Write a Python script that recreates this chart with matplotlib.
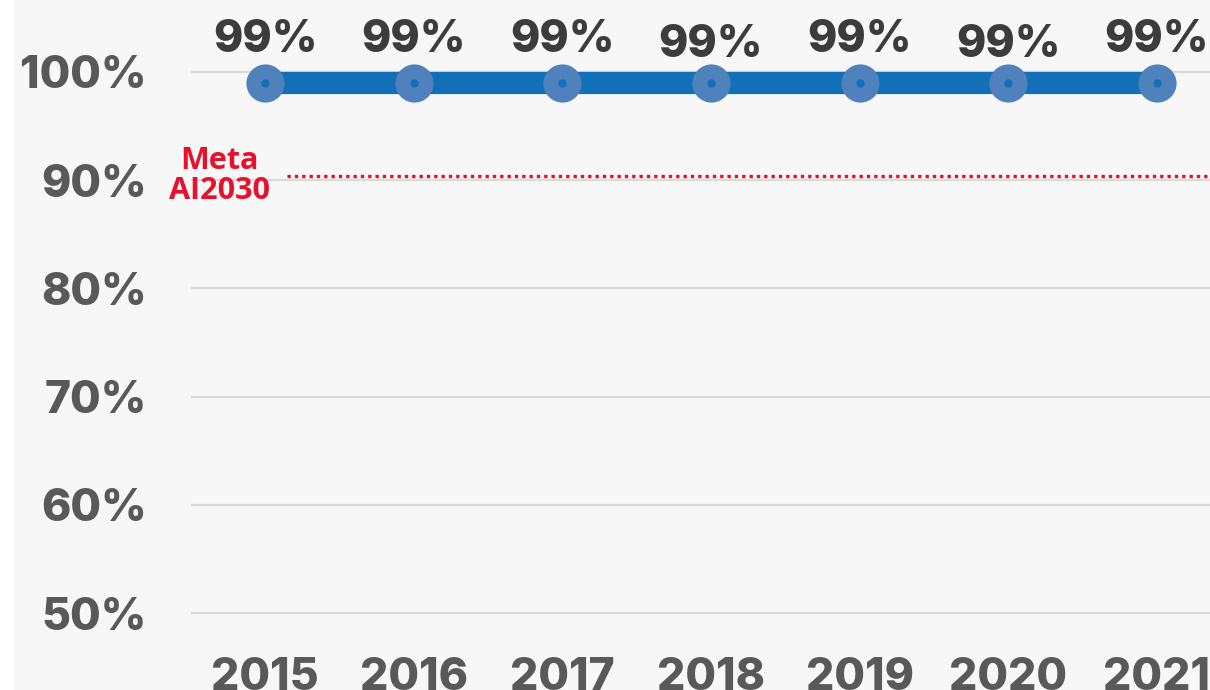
import matplotlib.pyplot as plt
from matplotlib.patches import Rectangle

years = ["2015", "2016", "2017", "2018", "2019", "2020", "2021"]
values = [99, 99, 99, 99, 99, 99, 99]
labels = ["99%", "99%", "99%", "99%", "99%", "99%", "99%"]
meta_value = 90.4
meta_label = "Meta\nAI2030"
yticks = [50, 60, 70, 80, 90, 100]

# desplazamiento vertical de las etiquetas (puntos)
label_dy = [31, 31, 31, 27, 31, 27, 31]

plt.rcParams['font.family'] = ['Inter', 'DejaVu Sans']

fig = plt.figure(figsize=(12.1, 6.9), dpi=100, facecolor="white")
fig.patches.append(Rectangle((14 / 1210, 0), 1, 1, transform=fig.transFigure,
                             facecolor="#f7f7f7", edgecolor="none", zorder=-10))

ax = fig.add_axes([191 / 1210, 0.0645, 1040 / 1210, 0.9355])
ax.set_facecolor("none")
x = list(range(len(years)))

ax.set_xlim(-0.5, len(years) - 0.5)
ax.set_ylim(47, 106.65)

for t in yticks:
    ax.axhline(t, color="#dadada", lw=1.6, zorder=1)

ax.axhline(meta_value, xmin=(287 - 191) / 1040, color="#e8112d", lw=2.4,
           linestyle=(0, (1, 1.2)), zorder=2)
ax.text(-0.31, meta_value, meta_label, color="#e8112d", fontsize=22,
        fontweight="bold", ha="center", va="center", linespacing=1.0,
        family=["Open Sans", "DejaVu Sans"], zorder=3)

ax.plot(x, values, color="#1170b8", lw=16, solid_capstyle="butt", zorder=3)
ax.plot(x, values, "o", color="#4f81bd", markersize=27.5, markeredgewidth=0, zorder=4)
ax.plot(x, values, "o", color="#1170b8", markersize=6, markeredgewidth=0, zorder=5)

for xi, v, lab, dy in zip(x, values, labels, label_dy):
    ax.annotate(lab, (xi, v), xytext=(0, dy), textcoords="offset points",
                ha="center", va="center", fontsize=32, fontweight="heavy",
                color="#3c3c3c", zorder=6)

ax.set_yticks(yticks)
ax.set_yticklabels([f"{t}%" for t in yticks])
ax.set_xticks(x)
ax.set_xticklabels(years)
ax.tick_params(axis="y", length=0, pad=32, labelsize=32, labelcolor="#595959")
ax.tick_params(axis="x", length=0, pad=8, labelsize=32, labelcolor="#595959")
for lab in ax.get_xticklabels() + ax.get_yticklabels():
    lab.set_fontweight("heavy")

for s in ax.spines.values():
    s.set_visible(False)

fig.savefig("out.png", dpi=100)
